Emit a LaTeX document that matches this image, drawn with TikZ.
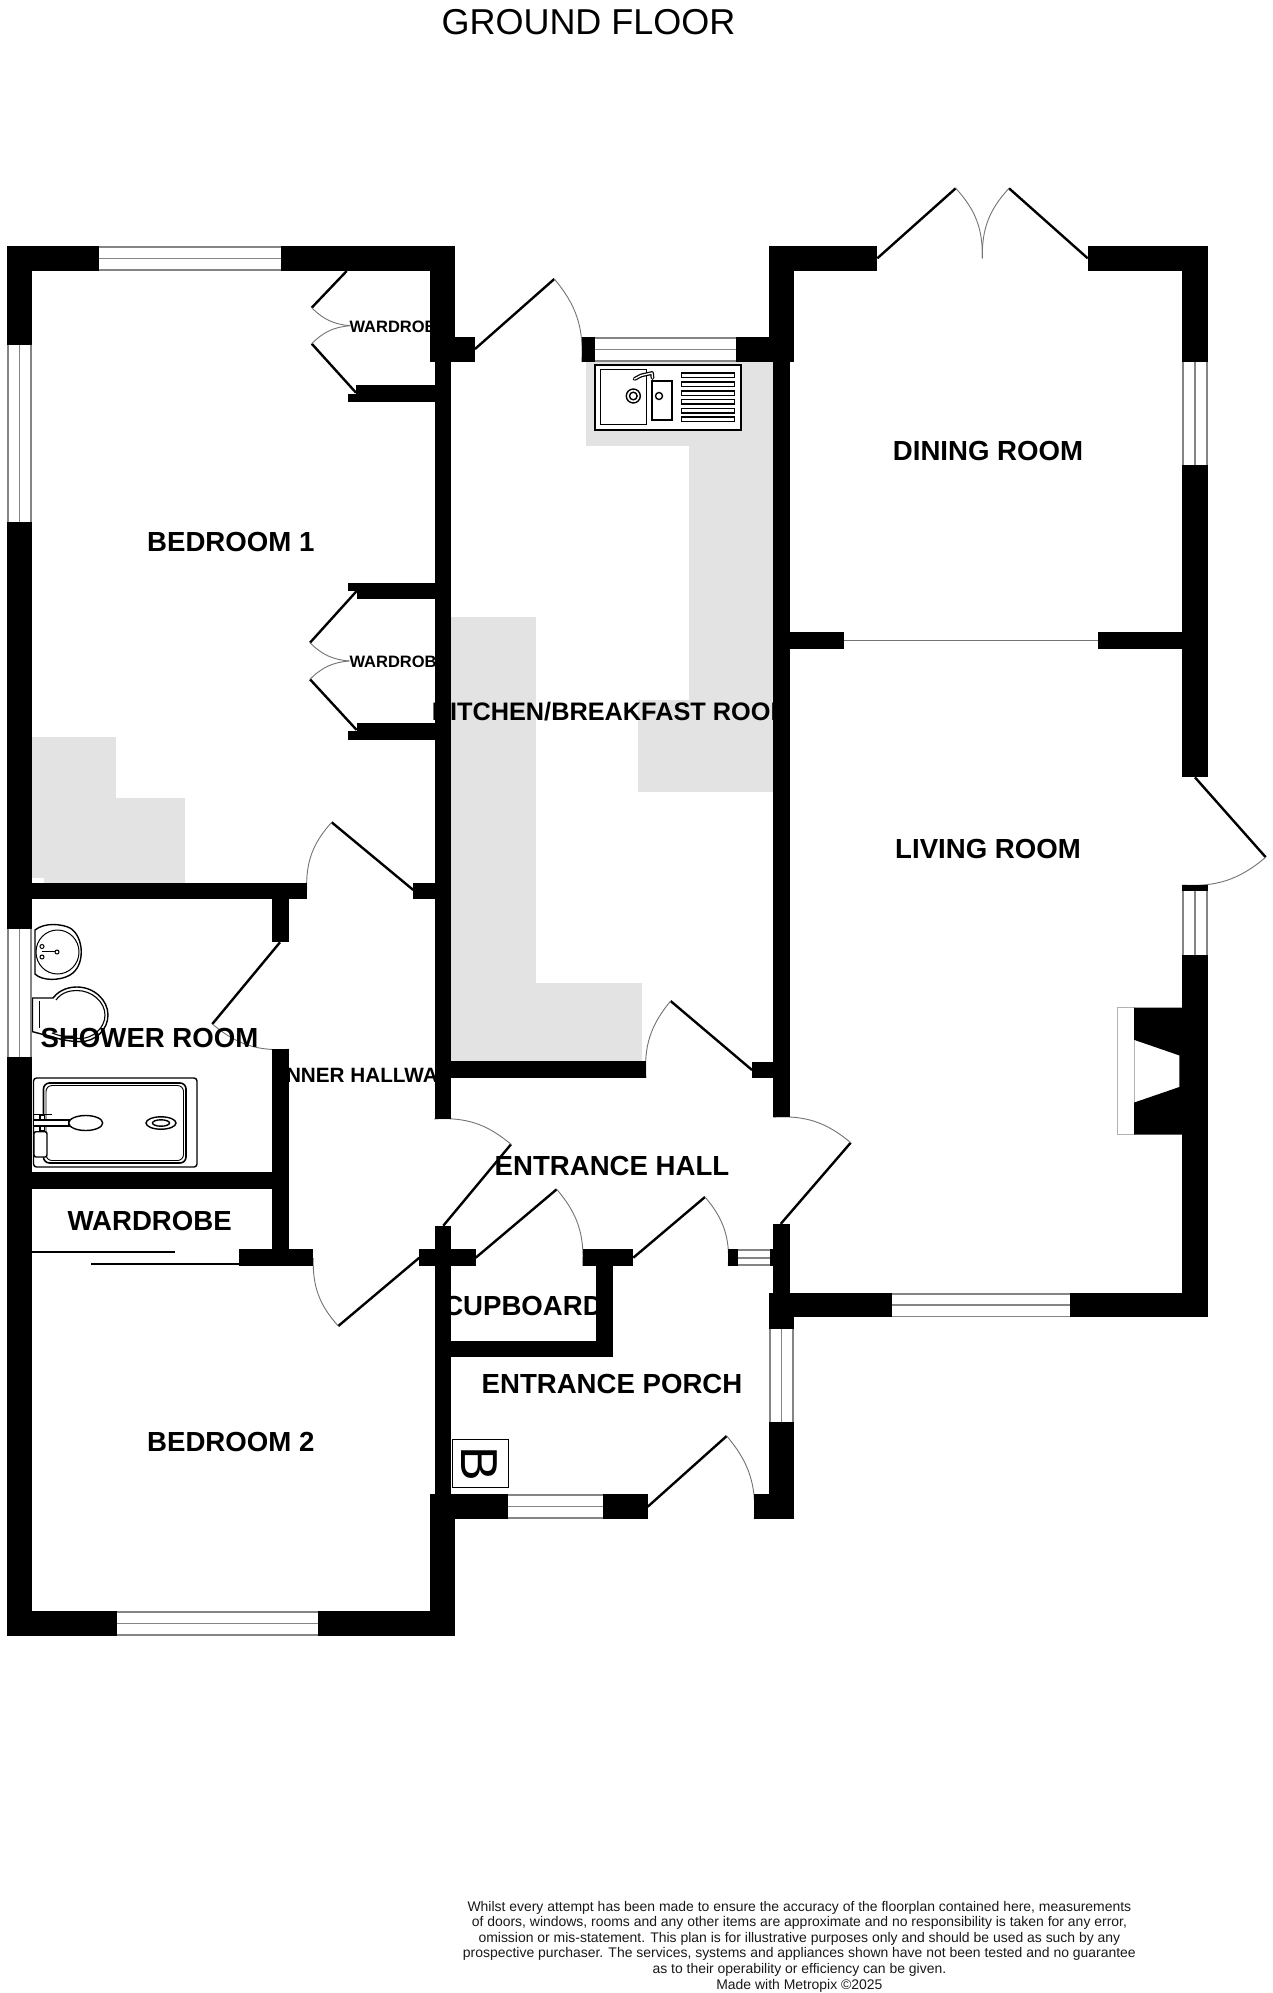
\documentclass[tikz,border=0pt]{standalone}
\usepackage{fontspec}
\setmainfont{Liberation Sans}
\newcommand\wallbox[4]{\fill[wallfill] (#1,#2) rectangle (#3,#4);}
\newcommand\greybox[4]{\fill[counter] (#1,#2) rectangle (#3,#4);}
\newcommand\winh[4]{\fill[white] (#1,#2) rectangle (#3,#4);
  \draw[winline] (#1,#2+.8) -- (#3,#2+.8);
  \draw[winline] (#1,#4-.8) -- (#3,#4-.8);
  \draw[winline] (#1,{(#2+#4)/2}) -- (#3,{(#2+#4)/2});}
\newcommand\winv[4]{\fill[white] (#1,#2) rectangle (#3,#4);
  \draw[winline] (#1+.8,#2) -- (#1+.8,#4);
  \draw[winline] (#3-.8,#2) -- (#3-.8,#4);
  \draw[winline] ({(#1+#3)/2},#2) -- ({(#1+#3)/2},#4);}
\newcommand\doorleaf[7]{\draw[leaf] (#1,#2) -- (#3,#4);
  \draw[swing] (#3,#4) to[#7] (#5,#6);}
\tikzset{
  wallfill/.style={fill=black},
  counter/.style={fill=black!11},
  winline/.style={draw=black!48,line width=1.8pt},
  leaf/.style={draw=black,line width=2.4pt},
  swing/.style={draw=black!55,line width=.9pt},
  fixture/.style={draw=black,line width=1.4pt},
  fixturew/.style={draw=black,fill=white,line width=1.4pt},
  roomlabel/.style={font=\fontsize{27.6}{30}\selectfont\bfseries,inner sep=0pt,text=black},
  smalllabel/.style={font=\fontsize{16.5}{18}\selectfont\bfseries,inner sep=0pt,anchor=west,text=black},
}
\begin{document}
\begin{tikzpicture}[x=1pt,y=-1pt]
\useasboundingbox (0,0) rectangle (1272,1993);
\fill[white] (0,0) rectangle (1272,1993);

% worktops / floor shading
\greybox{586}{362}{773.3}{446.3}
\greybox{689.3}{446.3}{773.3}{791.7}
\greybox{638}{700}{689.3}{791.7}
\greybox{451}{616.7}{535.7}{1061.3}
\greybox{535.7}{983.3}{642.3}{1061.3}
\greybox{32}{737.3}{115.7}{882.7}
\greybox{115.7}{798.3}{185}{882.7}
\fill[white] (32,877.5) rectangle (44,882.7);

% kitchen sink
\draw[fixturew,line width=2.2pt] (595.3,365.3) rectangle (740.7,430);
\draw[fixture] (600.7,369.3) rectangle (646.7,424.3);
\draw[fixture,line width=1.8pt] (651.7,381) rectangle (672.3,420);
\draw[fixture] (633.3,396) circle (7);
\draw[fixture] (633.3,396) circle (3.8);
\draw[fixture] (659,396) circle (3.5);
\foreach \yy in {375.3,384.3,393,401.7,410.7,419.3}
  \draw[fixture] (681.3,\yy-2.2) rectangle (734.7,\yy+2.2);
\draw[line width=3.8pt,black,line cap=round,line join=round] (634.5,379) -- (641,375.5) -- (652,373) -- (652.5,378);
\draw[line width=1.3pt,white,line cap=round,line join=round] (634.5,379) -- (641,375.5) -- (652,373) -- (652.5,378);

% basin
\draw[fixture] (35,930) .. controls (45,922) and (62,924) .. (70,928) .. controls (84,936) and (86,966) .. (70,975) .. controls (60,981) and (42,981) .. (35,974) -- cycle;
\draw[fixture,line width=1pt] (57.5,952) ellipse (21.5 and 22);
\draw[fixture,line width=1pt] (42,951.5) -- (55,951.5);
\draw[fixture,line width=1pt] (57,952) circle (2);
\draw[fixture,line width=1pt] (42,946.5) circle (2);
\draw[fixture,line width=1pt] (42,957) circle (2);

% toilet
\draw[fixture] (32.5,998) -- (53,998) .. controls (60,989) and (70,987) .. (77,987) .. controls (94,987) and (108,1000) .. (108,1015) .. controls (108,1030) and (95,1041.7) .. (80,1041.7) .. controls (65,1041.7) and (50,1036) .. (32.5,1031.7) -- cycle;
\draw[fixture,line width=1.1pt] (56,1000) .. controls (62,992) and (70,990.5) .. (77,990.5) .. controls (92,990.5) and (105,1002) .. (105,1015) .. controls (105,1028) and (93,1038.5) .. (80,1038.5) .. controls (70,1038.5) and (60,1036) .. (52,1033);
\draw[fixture,line width=1pt] (39,1001) -- (39,1028);

% shower tray
\draw[fixture,rounded corners=3pt] (33.5,1078) rectangle (197,1167);
\draw[fixture,rounded corners=6pt,line width=1.6pt] (43.5,1083) rectangle (186,1163);
\draw[fixture,rounded corners=6pt,line width=.9pt] (46,1085.5) rectangle (183.5,1160.5);
\draw[fixturew] (33.5,1120) -- (69,1120) -- (69,1126) -- (33.5,1126) -- cycle;
\draw[fixture] (34,1114.5) -- (52,1114.5);
\draw[fixturew] (40,1115) rectangle (44.5,1120);
\draw[fixturew] (40,1126) rectangle (44.5,1131);
\draw[fixturew] (85.7,1123) ellipse (17 and 7.5);
\draw[fixture] (161,1123) ellipse (15 and 6.2);
\draw[fixture] (161,1123) ellipse (8.5 and 3.2);
\draw[fixturew,rounded corners=2pt] (34,1131.7) rectangle (47,1157);

% fireplace surround
\draw[draw=black!30,line width=.9pt,fill=white] (1117.7,1007.7) rectangle (1134,1134.7);

% boiler
\draw[draw=black,line width=1pt,fill=white] (452.3,1439) rectangle (508,1487.3);
\node[font=\fontsize{52}{54}\selectfont,inner sep=0pt,rotate=-90] (boilerB) at (479.3,1464.3) {B};

% doors
\doorleaf{346.7}{271}{311.7}{307.7}{350}{325.7}{bend right=20}
\doorleaf{356}{392.7}{311.7}{343.7}{350}{325.7}{bend left=20}
\doorleaf{356.7}{591}{310}{642.7}{349.3}{661}{bend right=20}
\doorleaf{356.7}{730}{310}{679.3}{349.3}{661}{bend left=20}
\doorleaf{413.3}{890}{331.7}{822.3}{306.7}{890}{bend right=22}
\doorleaf{280}{942.3}{212.3}{1024}{289}{1049.3}{bend right=22}
\doorleaf{419.3}{1257.7}{338.3}{1326}{313.3}{1258}{bend left=22}
\doorleaf{443.3}{1225.7}{511}{1144.3}{434}{1119}{bend right=22}
\doorleaf{475.7}{1257.7}{556.7}{1189.3}{582.7}{1266}{bend left=22}
\doorleaf{633.3}{1257.7}{705}{1197}{728.3}{1266}{bend left=22}
\doorleaf{752}{1070}{670.6}{1001}{646}{1078}{bend right=22}
\doorleaf{780.7}{1223.9}{850.7}{1142.7}{773.3}{1117.2}{bend right=22}
\doorleaf{647.7}{1506.7}{726.7}{1436}{754.3}{1519}{bend left=22}
\doorleaf{475}{349}{554.3}{279}{581.7}{362}{bend left=22}
\doorleaf{877.3}{258.3}{955.7}{188.3}{982.3}{258.3}{bend left=22}
\doorleaf{1087.7}{258.3}{1009}{188.3}{982.3}{258.3}{bend right=22}
\doorleaf{1195}{777.4}{1265.7}{857.2}{1182.3}{885}{bend left=22}
\draw[swing] (844,640.4) -- (1097.7,640.4);

% texts (the walls are drawn over them, as in the plan)
\node[font=\fontsize{36}{40}\selectfont,inner sep=0pt] (title) at (588.5,22) {GROUND FLOOR};
\node[roomlabel] (bed1) at (230.8,541.7) {BEDROOM 1};
\node[smalllabel] (wr1) at (349.3,327.3) {WARDROBE};
\node[smalllabel] (wr2) at (349.3,662.3) {WARDROBE};
\node[roomlabel,font=\fontsize{25.3}{28}\selectfont\bfseries] (kitchen) at (611.7,711.7) {KITCHEN/BREAKFAST ROOM};
\node[roomlabel] (dining) at (988,451) {DINING ROOM};
\node[roomlabel] (living) at (988,848.7) {LIVING ROOM};
\node[roomlabel] (shower) at (149.5,1037.7) {SHOWER ROOM};
\node[roomlabel,font=\fontsize{20.7}{24}\selectfont\bfseries] (inner) at (365,1075.7) {INNER HALLWAY};
\node[roomlabel] (hall) at (612,1165.7) {ENTRANCE HALL};
\node[roomlabel] (wr3) at (149.7,1220.7) {WARDROBE};
\node[roomlabel] (cupboard) at (523,1305.7) {CUPBOARD};
\node[roomlabel] (porch) at (612,1383.7) {ENTRANCE PORCH};
\node[roomlabel] (bed2) at (230.8,1442.3) {BEDROOM 2};
\node[font=\fontsize{13.95}{15.55}\selectfont,inner sep=0pt,align=center,text=black!90] (note) at (799.4,1946.5) {Whilst every attempt has been made to ensure the accuracy of the floorplan contained here, measurements\\of doors, windows, rooms and any other items are approximate and no responsibility is taken for any error,\\omission or mis-statement. This plan is for illustrative purposes only and should be used as such by any\\prospective purchaser. The services, systems and appliances shown have not been tested and no guarantee\\as to their operability or efficiency can be given.\\Made with Metropix ©2025};

% windows
\winh{99}{246}{281}{271}
\winh{595}{337}{735.7}{362}
\winh{892}{1292.8}{1070}{1317.3}
\winh{507.7}{1494}{603.3}{1519}
\winh{117.3}{1611}{318.3}{1636}
\winh{738}{1249.3}{770}{1266}
\winv{7}{345}{32}{522}
\winv{7}{929}{32}{1057}
\winv{769}{1329.3}{794}{1422.3}
\winv{1182.3}{361.7}{1207.7}{465}
\winv{1182.3}{891}{1207.7}{955.4}

% walls
\wallbox{7}{246}{99}{271}
\wallbox{281}{246}{455}{271}
\wallbox{7}{246}{32}{345}
\wallbox{7}{522}{32}{929}
\wallbox{7}{1057}{32}{1636}
\wallbox{430}{246}{455}{362}
\wallbox{430}{337}{475}{362}
\wallbox{434.5}{362}{451}{1119}
\wallbox{356}{385.3}{434.7}{401.7}
\wallbox{348}{393.7}{356}{401.7}
\wallbox{356.7}{582.7}{434.7}{599.3}
\wallbox{348}{582.7}{356.7}{591}
\wallbox{356.7}{723.3}{434.7}{740}
\wallbox{348}{731.3}{356.7}{740}
\wallbox{32}{882.7}{306.7}{899}
\wallbox{413.3}{882.7}{434.7}{899}
\wallbox{272.3}{899}{289}{942.3}
\wallbox{272.3}{1049.3}{289}{1266}
\wallbox{32}{1172.3}{289}{1189}
\wallbox{238.7}{1249.3}{312.7}{1266}
\draw[black,line width=2pt] (32,1251.7) -- (175,1251.7);
\draw[black,line width=2pt] (91,1263.7) -- (238.7,1263.7);
\wallbox{451}{1061.3}{646}{1078.3}
\wallbox{752}{1062}{773.3}{1078}
\wallbox{434.5}{1225.7}{451}{1494}
\wallbox{419.3}{1249.3}{475.7}{1266}
\wallbox{582.7}{1249.3}{633.3}{1266}
\wallbox{596}{1266}{612.7}{1357.3}
\wallbox{451}{1340.7}{612.7}{1357.3}
\wallbox{430}{1494}{455}{1636}
\wallbox{7}{1611}{117.3}{1636}
\wallbox{318.3}{1611}{455}{1636}
\wallbox{430}{1494}{507.7}{1519}
\wallbox{603.3}{1494}{647.7}{1519}
\wallbox{754.3}{1494}{794}{1519}
\wallbox{769}{1422.3}{794}{1519}
\wallbox{769}{1292.7}{794}{1329.3}
\wallbox{728.3}{1249.3}{738}{1266}
\wallbox{770}{1249.3}{774}{1266}
\wallbox{773.3}{1224}{790}{1292.7}
\wallbox{773.3}{362}{790}{1117.2}
\wallbox{581.7}{337}{595}{362}
\wallbox{735.7}{337}{794}{362}
\wallbox{769}{246}{794}{362}
\wallbox{769}{246}{877.3}{271}
\wallbox{1087.7}{246}{1207.7}{271}
\wallbox{1182.3}{246}{1207.7}{361.7}
\wallbox{1182.3}{465}{1207.7}{777.4}
\wallbox{1182.3}{885}{1207.7}{891}
\wallbox{1182.3}{955.4}{1207.7}{1317.3}
\wallbox{790}{632}{844}{648.6}
\wallbox{1097.7}{632}{1182.3}{648.6}
\wallbox{769}{1292.8}{892}{1317.3}
\wallbox{1070}{1292.8}{1207.7}{1317.3}
\fill[wallfill] (1134,1007.7) -- (1183,1007.7) -- (1183,1134.7) -- (1134,1134.7) -- (1134,1102.6) -- (1179.3,1087) -- (1179.3,1055.4) -- (1134,1039.8) -- cycle;
\end{tikzpicture}
\end{document}
